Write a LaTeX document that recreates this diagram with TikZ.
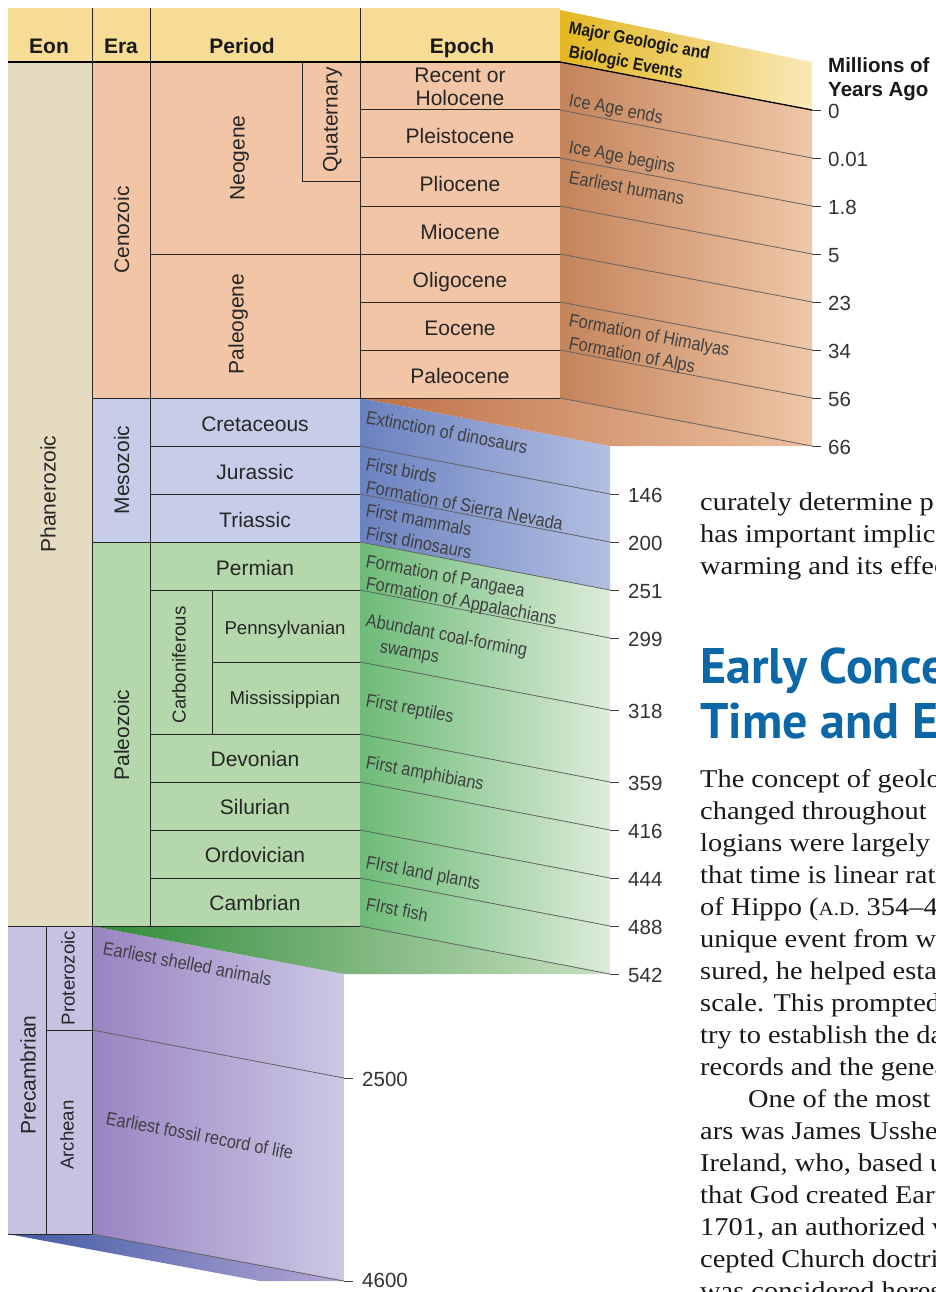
\documentclass[tikz,border=0pt]{standalone}
\usepackage{graphicx}
\usepackage{fontspec}
\setmainfont{Liberation Sans}
\newfontfamily\evfont{Liberation Sans}
\newfontfamily\bodyfont[FakeStretch=1.11]{Liberation Serif}
\newfontfamily\headfont{PT Sans}
\newcommand\evx[1]{\scalebox{0.88}[1]{#1}}
\definecolor{hdrY}{HTML}{F6DC94}
\definecolor{beige}{HTML}{E4DBC1}
\definecolor{peach}{HTML}{F1C5A6}
\definecolor{mesoB}{HTML}{C6CDE8}
\definecolor{paleoG}{HTML}{B4D8AC}
\definecolor{precL}{HTML}{C7C2E2}
\definecolor{yL}{HTML}{E3B721}
\definecolor{yR}{HTML}{F9E9B8}
\definecolor{brL}{HTML}{C4845A}
\definecolor{brR}{HTML}{F0C7A8}
\definecolor{bfL}{HTML}{BD7045}
\definecolor{bfR}{HTML}{ECC0A0}
\definecolor{blL}{HTML}{6B82C0}
\definecolor{blR}{HTML}{B3BFE3}
\definecolor{gnL}{HTML}{6DBB78}
\definecolor{gnR}{HTML}{DDECD9}
\definecolor{gfL}{HTML}{2F8A38}
\definecolor{gfR}{HTML}{C8E0C0}
\definecolor{puL}{HTML}{9984C2}
\definecolor{puR}{HTML}{CDC8E5}
\definecolor{pfL}{HTML}{3F5AA4}
\definecolor{pfR}{HTML}{B7A7D6}
\definecolor{headblue}{HTML}{0B67A6}
\begin{document}
\begin{tikzpicture}[x=1pt,y=-1pt,
  tline/.style={draw=black!85, line width=1pt},
  sline/.style={draw=black!62, line width=0.8pt},
  tickm/.style={draw=black!75, line width=0.9pt},
  lab/.style={font=\fontsize{21}{24}\selectfont, text=black!85, inner sep=0pt, text height=15pt, text depth=0pt},
  slab/.style={lab, font=\fontsize{18.6}{22}\selectfont, text height=13.3pt},
  hd/.style={font=\bfseries\fontsize{21}{24}\selectfont, anchor=base, inner sep=0pt, text=black!90},
  ev/.style={font=\evfont\fontsize{18.5}{20}\selectfont, text=black!75, anchor=base west, inner sep=0pt, rotate=-10.78},
  evb/.style={font=\evfont\bfseries\fontsize{17.5}{20}\selectfont, text=black!90, anchor=base west, inner sep=0pt, rotate=-10.78},
  tl/.style={font=\fontsize{20.5}{22}\selectfont, text=black!80, anchor=west, inner sep=0pt, text height=14.7pt, text depth=0pt},
  body/.style={font=\bodyfont\fontsize{25.6}{32}\selectfont, text=black!90, anchor=base west, inner sep=0pt},
  bighead/.style={font=\headfont\bfseries\fontsize{50}{56}\selectfont, text=headblue, anchor=base west, inner sep=0pt}
]
\useasboundingbox (0,0) rectangle (935,1292);
\fill[white] (0,0) rectangle (935,1292);

% ---- table fills
\fill[hdrY] (8,8) rectangle (560,62);
\fill[beige] (8,62) rectangle (92,926);
\fill[peach] (92,62) rectangle (560,398);
\fill[mesoB] (92,398) rectangle (360,542);
\fill[paleoG] (92,542) rectangle (360,926);
\fill[precL] (8,926) rectangle (92,1234);

% ---- event panels
\shade[left color=yL, right color=yR] (560,10) -- (812,62) -- (812,110) -- (560,62) -- cycle;
\shade[left color=brL, right color=brR] (560,62) -- (812,110) -- (812,446) -- (560,398) -- cycle;
\shade[left color=blL, right color=blR] (360,398) -- (610,446) -- (610,590) -- (360,542) -- cycle;
\shade[left color=bfL, right color=bfR] (360,398) -- (560,398) -- (812,446) -- (610,446) -- cycle;
\shade[left color=gnL, right color=gnR] (360,542) -- (610,590) -- (610,974) -- (360,926) -- cycle;
\shade[left color=puL, right color=puR] (92,926) -- (344,974) -- (344,1281) -- (92,1234) -- cycle;
\shade[left color=gfL, right color=gfR] (92,926) -- (360,926) -- (610,974) -- (344,974) -- cycle;
\shade[left color=pfL, right color=pfR] (8,1234) -- (92,1234) -- (344,1281) -- (260,1281) -- cycle;

% ---- slanted boundary lines
\foreach \y in {110,158,206,254,302,350,398} \draw[sline] (560,\y) -- (812,\y+48);
\foreach \y in {446,494,542,590,662,734,782,830,878,926} \draw[sline] (360,\y) -- (610,\y+48);
\draw[sline] (92,1030) -- (344,1078);
\draw[sline] (92,1234) -- (344,1281);
\draw[draw=black, line width=1.3pt] (560,62) -- (812,110);

% ---- table lines
\draw[draw=black, line width=1.8pt] (8,62) -- (560,62);
\draw[tline] (92,8) -- (92,1234);
\draw[tline] (150,8) -- (150,926);
\draw[tline] (360,8) -- (360,398);
\draw[tline] (46,926) -- (46,1234);
\draw[tline] (302,62) -- (302,182) -- (360,182);
\draw[tline] (212,590) -- (212,734);
\draw[tline] (150,254) -- (360,254);
\foreach \y in {110,158,206,254,302,350} \draw[tline] (360,\y) -- (560,\y);
\draw[tline] (92,398) -- (560,398);
\foreach \y in {446,494,590,734,782,830,878} \draw[tline] (150,\y) -- (360,\y);
\draw[tline] (92,542) -- (360,542);
\draw[tline] (212,662) -- (360,662);
\draw[tline] (8,926) -- (360,926);
\draw[tline] (46,1030) -- (92,1030);
\draw[tline] (8,1234) -- (92,1234);

% ---- ticks and values
\foreach \y/\t [count=\i] in {110/0,158/0.01,206/1.8,254/5,302/23,350/34,398/56,446/66}{
  \draw[tickm] (812,\y) -- (821,\y);
  \node[tl] (tc\i) at (828,\y+1) {\t};
}
\foreach \y/\t [count=\i] in {494/146,542/200,590/251,638/299,710/318,782/359,830/416,878/444,926/488,974/542}{
  \draw[tickm] (610,\y) -- (619,\y);
  \node[tl] (tm\i) at (628,\y+1) {\t};
}
\draw[tickm] (344,1078) -- (353,1078);
\node[tl] (tp1) at (362,1079) {2500};
\draw[tickm] (344,1281) -- (353,1281);
\node[tl] (tp2) at (362,1280) {4600};

% ---- headers
\node[hd] (hEon) at (49,54) {Eon};
\node[hd] (hEra) at (121,54) {Era};
\node[hd] (hPer) at (242,54) {Period};
\node[hd] (hEpo) at (462,54) {Epoch};
\node[evb] (hEv1) at (568,33) {\evx{Major Geologic and}};
\node[evb] (hEv2) at (568,57) {\evx{Biologic Events}};
\node[font=\bfseries\fontsize{20.5}{22}\selectfont, anchor=base west, inner sep=0pt, text=black!90] (hMy1) at (828,73) {Millions of};
\node[font=\bfseries\fontsize{20.5}{22}\selectfont, anchor=base west, inner sep=0pt, text=black!90] (hMy2) at (828,97) {Years Ago};

% ---- table labels
\node[lab, rotate=90] (eonP) at (48,494) {Phanerozoic};
\node[lab, rotate=90] (eonPc) at (28,1075) {Precambrian};
\node[lab, rotate=90] (eraC) at (121.5,230) {Cenozoic};
\node[lab, rotate=90] (eraM) at (121.5,470) {Mesozoic};
\node[lab, rotate=90] (eraP) at (121.5,735) {Paleozoic};
\node[slab, rotate=90] (eraPr) at (68,978) {Proterozoic};
\node[slab, rotate=90] (eraAr) at (67,1135) {Archean};
\node[lab, rotate=90] (pNeo) at (237,158) {Neogene};
\node[lab, rotate=90] (pPal) at (236,324) {Paleogene};
\node[lab, rotate=90] (pQua) at (330,120) {Quaternary};
\node[lab] (e1a) at (460,75) {Recent or};
\node[lab] (e1b) at (460,98) {Holocene};
\node[lab] (e2) at (460,136) {Pleistocene};
\node[lab] (e3) at (460,184) {Pliocene};
\node[lab] (e4) at (460,232) {Miocene};
\node[lab] (e5) at (460,280) {Oligocene};
\node[lab] (e6) at (460,328) {Eocene};
\node[lab] (e7) at (460,376) {Paleocene};
\node[lab] (pCre) at (255,424) {Cretaceous};
\node[lab] (pJur) at (255,472) {Jurassic};
\node[lab] (pTri) at (255,520) {Triassic};
\node[lab] (pPer) at (255,568) {Permian};
\node[slab, rotate=90] (pCar) at (179,665) {Carboniferous};
\node[slab] (pPen) at (285,628) {Pennsylvanian};
\node[slab] (pMis) at (285,698) {Mississippian};
\node[lab] (pDev) at (255,759) {Devonian};
\node[lab] (pSil) at (255,807) {Silurian};
\node[lab] (pOrd) at (255,855) {Ordovician};
\node[lab] (pCam) at (255,903) {Cambrian};

% ---- events
\node[ev] (v1) at (568,106) {\evx{Ice Age ends}};
\node[ev] (v2) at (568,153) {\evx{Ice Age begins}};
\node[ev] (v3) at (568,183) {\evx{Earliest humans}};
\node[ev] (v4) at (568,326) {\evx{Formation of Himalyas}};
\node[ev] (v5) at (568,349) {\evx{Formation of Alps}};
\node[ev] (v6) at (365,423) {\evx{Extinction of dinosaurs}};
\node[ev] (v7) at (365,470) {\evx{First birds}};
\node[ev] (v8) at (365,493) {\evx{Formation of Sierra Nevada}};
\node[ev] (v9) at (365,516) {\evx{First mammals}};
\node[ev] (v10) at (365,539) {\evx{First dinosaurs}};
\node[ev] (v11) at (365,567) {\evx{Formation of Pangaea}};
\node[ev] (v12) at (365,589) {\evx{Formation of Appalachians}};
\node[ev] (v13) at (365,626) {\evx{Abundant coal-forming}};
\node[ev] (v14) at (379,652) {\evx{swamps}};
\node[ev] (v15) at (365,706) {\evx{First reptiles}};
\node[ev] (v16) at (365,768) {\evx{First amphibians}};
\node[ev] (v17) at (365,868) {\evx{FIrst land plants}};
\node[ev] (v18) at (365,910) {\evx{FIrst fish}};
\node[ev] (v19) at (102,954) {\evx{Earliest shelled animals}};
\node[ev] (v20) at (105,1124) {\evx{Earliest fossil record of life}};

% ---- page text on the right
\begin{scope}
\clip (690,470) rectangle (935,1292);
\node[body] (b1) at (700,510) {curately determine p};
\node[body] (b2) at (700,542) {has important implica};
\node[body] (b3) at (700,574) {warming and its effect};
\node[bighead] (hd1) at (700,683) {Early Conce};
\node[bighead] (hd2) at (700,738) {Time and E};
\node[body] (b4) at (700,787) {The concept of geolo};
\node[body] (b5) at (700,819) {changed throughout};
\node[body] (b6) at (700,851) {logians were largely};
\node[body] (b7) at (700,883) {that time is linear rath};
\node[body] (b8) at (700,915) {of Hippo ({\fontsize{19}{32}\selectfont A.D.} 354–4};
\node[body] (b9) at (700,947) {unique event from w};
\node[body] (b10) at (700,979) {sured, he helped estab};
\node[body] (b11) at (700,1011) {scale. This prompted};
\node[body] (b12) at (700,1043) {try to establish the da};
\node[body] (b13) at (700,1075) {records and the genea};
\node[body] (b14) at (748,1107) {One of the most i};
\node[body] (b15) at (700,1139) {ars was James Ussher};
\node[body] (b16) at (700,1171) {Ireland, who, based up};
\node[body] (b17) at (700,1203) {that God created Eart};
\node[body] (b18) at (700,1235) {1701, an authorized v};
\node[body] (b19) at (700,1267) {cepted Church doctri};
\node[body] (b20) at (700,1299) {was considered heres};
\end{scope}
\end{tikzpicture}
\end{document}
